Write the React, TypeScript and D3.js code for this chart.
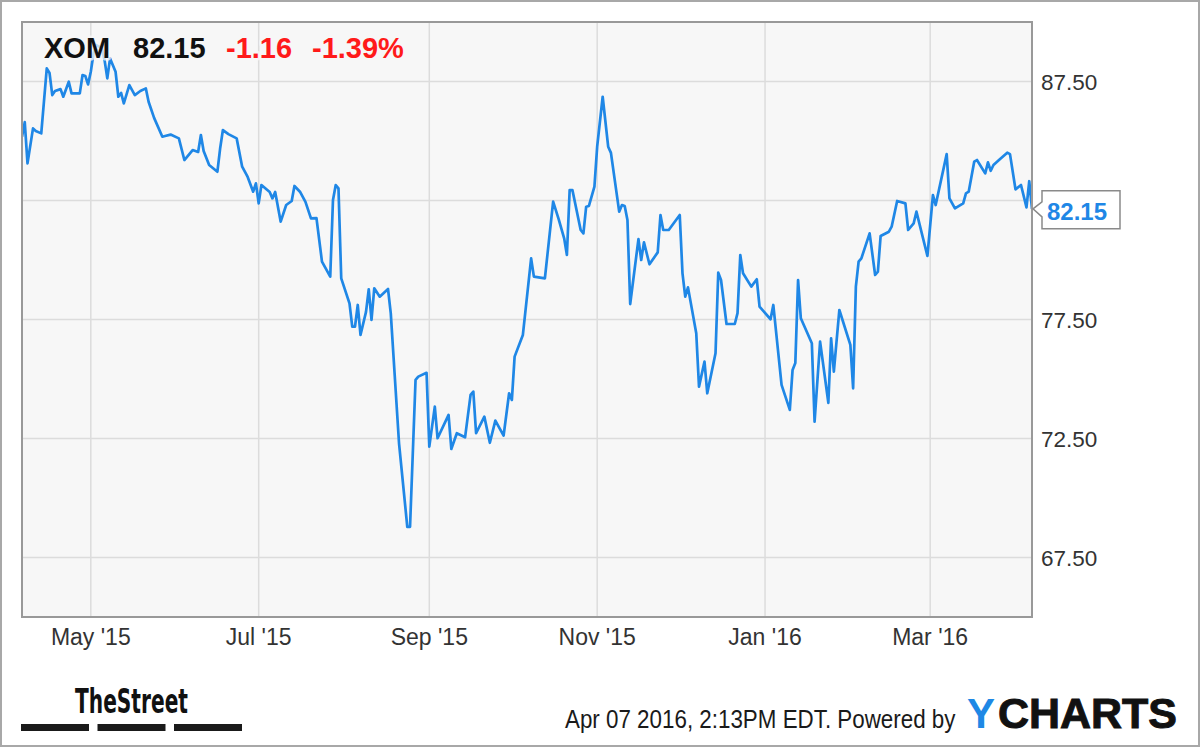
import React from "react";
import * as d3 from "d3";

// ---- data ----
const dates: string[] = [
  "2015-04-06","2015-04-07","2015-04-08","2015-04-10","2015-04-11","2015-04-13","2015-04-15","2015-04-16","2015-04-17","2015-04-18",
  "2015-04-20","2015-04-21","2015-04-23","2015-04-24","2015-04-27","2015-04-28","2015-04-29","2015-04-30","2015-05-01","2015-05-02",
  "2015-05-03","2015-05-05","2015-05-06","2015-05-07","2015-05-08","2015-05-10","2015-05-11","2015-05-12","2015-05-13","2015-05-15",
  "2015-05-17","2015-05-19","2015-05-21","2015-05-22","2015-05-24","2015-05-27","2015-05-28","2015-05-30","2015-06-02","2015-06-04",
  "2015-06-07","2015-06-09","2015-06-10","2015-06-11","2015-06-13","2015-06-16","2015-06-17","2015-06-18","2015-06-20","2015-06-23",
  "2015-06-25","2015-06-27","2015-06-29","2015-06-30","2015-07-01","2015-07-02","2015-07-05","2015-07-06","2015-07-07","2015-07-09",
  "2015-07-11","2015-07-13","2015-07-14","2015-07-16","2015-07-18","2015-07-20","2015-07-22","2015-07-24","2015-07-27","2015-07-28",
  "2015-07-29","2015-07-30","2015-07-31","2015-08-03","2015-08-04","2015-08-05","2015-08-06","2015-08-07","2015-08-09","2015-08-10",
  "2015-08-11","2015-08-12","2015-08-14","2015-08-17","2015-08-18","2015-08-21","2015-08-24","2015-08-25","2015-08-27","2015-08-28",
  "2015-08-31","2015-09-01","2015-09-03","2015-09-04","2015-09-08","2015-09-09","2015-09-11","2015-09-14","2015-09-16","2015-09-17",
  "2015-09-18","2015-09-21","2015-09-23","2015-09-25","2015-09-28","2015-09-30","2015-10-01","2015-10-02","2015-10-05","2015-10-08",
  "2015-10-09","2015-10-13","2015-10-16","2015-10-18","2015-10-20","2015-10-21","2015-10-22","2015-10-23","2015-10-26","2015-10-27",
  "2015-10-28","2015-10-29","2015-10-31","2015-11-01","2015-11-03","2015-11-05","2015-11-06","2015-11-09","2015-11-10","2015-11-11",
  "2015-11-12","2015-11-13","2015-11-16","2015-11-17","2015-11-18","2015-11-20","2015-11-23","2015-11-24","2015-11-25","2015-11-27",
  "2015-12-01","2015-12-02","2015-12-03","2015-12-04","2015-12-07","2015-12-08","2015-12-10","2015-12-11","2015-12-14","2015-12-15",
  "2015-12-16","2015-12-18","2015-12-21","2015-12-22","2015-12-23","2015-12-24","2015-12-27","2015-12-29","2015-12-30","2016-01-03",
  "2016-01-04","2016-01-07","2016-01-10","2016-01-11","2016-01-12","2016-01-13","2016-01-14","2016-01-18","2016-01-19","2016-01-21",
  "2016-01-24","2016-01-25","2016-01-26","2016-01-28","2016-02-01","2016-02-02","2016-02-03","2016-02-04","2016-02-05","2016-02-08",
  "2016-02-10","2016-02-11","2016-02-12","2016-02-15","2016-02-16","2016-02-18","2016-02-21","2016-02-22","2016-02-24","2016-02-25",
  "2016-02-29","2016-03-02","2016-03-03","2016-03-07","2016-03-08","2016-03-10","2016-03-13","2016-03-14","2016-03-15","2016-03-17",
  "2016-03-18","2016-03-21","2016-03-22","2016-03-23","2016-03-24","2016-03-26","2016-03-29","2016-03-30","2016-04-01","2016-04-03",
  "2016-04-05","2016-04-06","2016-04-07",
];

const closes: number[] = [
  85.18,85.79,84.06,85.53,85.42,85.32,88.05,87.86,86.93,87.1,
  87.18,86.86,87.49,87.0,87.0,87.77,87.73,87.38,87.91,88.68,
  89.03,88.9,88.4,87.63,88.47,87.91,86.86,87.02,86.58,87.35,
  86.93,87.1,87.21,86.65,85.97,85.18,85.21,85.27,85.11,84.2,
  84.62,84.54,85.25,84.58,83.99,83.71,84.69,85.46,85.29,85.11,
  83.92,83.49,82.87,83.22,82.38,83.15,82.86,82.59,82.86,81.61,
  82.31,82.48,83.11,82.87,82.44,81.75,81.76,79.93,79.3,82.52,
  83.15,83.01,79.23,78.18,77.2,77.2,78.11,76.85,77.82,78.77,
  77.48,78.81,78.46,78.78,77.76,72.3,68.79,68.79,74.96,75.1,
  75.26,72.16,73.84,72.51,73.49,72.06,72.72,72.55,74.33,74.47,
  72.72,73.42,72.32,73.25,72.62,74.4,74.12,75.94,76.85,80.07,
  79.3,79.23,82.45,81.72,80.91,80.21,82.94,82.94,81.26,81.12,
  82.24,82.27,83.08,84.76,86.86,84.76,84.5,82.03,82.31,82.27,
  81.68,78.15,80.88,80.0,80.74,79.82,80.32,81.89,81.26,81.26,
  81.89,79.44,78.46,78.85,76.92,74.68,75.73,74.4,76.08,79.47,
  79.16,77.31,77.31,77.77,80.21,79.44,78.88,79.19,78.04,77.51,
  78.11,74.75,73.7,75.38,75.67,79.16,77.55,76.5,73.21,76.57,
  74.0,76.71,75.31,77.9,76.43,74.61,78.88,79.93,80.07,81.12,
  79.37,79.51,81.01,81.19,81.4,82.48,82.38,81.26,81.54,82.03,
  80.17,82.73,82.31,84.45,82.59,82.17,82.38,82.8,82.87,84.13,
  84.2,83.64,84.1,83.75,83.99,84.2,84.51,84.45,82.97,83.15,
  82.21,83.31,82.15,
];

const xTickDates: string[] = ["2015-05-01", "2015-07-01", "2015-09-01", "2015-11-01", "2016-01-01", "2016-03-01"];
const xTickLabels: string[] = ["May '15", "Jul '15", "Sep '15", "Nov '15", "Jan '16", "Mar '16"];
const yTicks: number[] = [67.5, 72.5, 77.5, 82.5, 87.5];
const yDomain: number[] = [65, 90];
const xDomain: string[] = ["2015-04-06", "2016-04-07"];

const ticker = "XOM";
const lastPrice = "82.15";
const changeAbs = "-1.16";
const changePct = "-1.39%";
const stamp = "Apr 07 2016, 2:13PM EDT.  Powered by";

export default function App() {
  const W = 1200;
  const H = 747;
  const left = 22;
  const right = 1032;
  const top = 22;
  const bottom = 617;

  const parse = d3.timeParse("%Y-%m-%d");
  const data = dates.map((d, i) => ({ date: parse(d) as Date, value: closes[i] }));

  const x = d3
    .scaleTime()
    .domain([parse(xDomain[0]) as Date, parse(xDomain[1]) as Date])
    .range([left, right]);
  const y = d3.scaleLinear().domain(yDomain).range([bottom, top]);

  const line = d3
    .line<{ date: Date; value: number }>()
    .x((d) => x(d.date))
    .y((d) => y(d.value));

  const last = data[data.length - 1];
  const ly = y(last.value);
  const bx = 1042;
  const bw = 78;

  const sans = "'Liberation Sans', Arial, Helvetica, sans-serif";
  const narrow = "'Liberation Sans Narrow', 'Arial Narrow', 'DejaVu Sans Condensed', sans-serif";
  const axisColor = "#333";
  const lineColor = "#1f87e6";
  const halo = {
    stroke: "#f7f7f7",
    strokeWidth: 5,
    strokeOpacity: 0.75,
    paintOrder: "stroke" as const,
    strokeLinejoin: "round" as const,
  };

  // tick labels hidden behind the last-price flag are not shown (as in the reference)
  const visibleYTicks = yTicks.filter((t) => Math.abs(y(t) - ly) > 22);

  return (
    <svg
      width={W}
      height={H}
      style={{ position: "absolute", left: 0, top: 0, background: "#fff" }}
      xmlns="http://www.w3.org/2000/svg"
    >
      <defs>
        <clipPath id="plotClip">
          <rect x={left} y={top} width={right - left} height={bottom - top} />
        </clipPath>
      </defs>

      {/* outer frame */}
      <rect x={1} y={1} width={W - 2} height={H - 2} fill="#fff" stroke="#a8a8a8" strokeWidth={2} />

      {/* plot background */}
      <rect x={left} y={top} width={right - left} height={bottom - top} fill="#f7f7f7" />

      {/* grid */}
      {yTicks.map((t) => (
        <line key={"gy" + t} x1={left} x2={right} y1={y(t)} y2={y(t)} stroke="#dcdcdc" strokeWidth={1.5} />
      ))}
      {xTickDates.map((d) => {
        const xx = x(parse(d) as Date);
        return <line key={"gx" + d} x1={xx} x2={xx} y1={top} y2={bottom} stroke="#dcdcdc" strokeWidth={1.5} />;
      })}

      {/* price line */}
      <path
        d={line(data) || ""}
        fill="none"
        stroke={lineColor}
        strokeWidth={2.7}
        strokeLinejoin="round"
        clipPath="url(#plotClip)"
      />

      {/* plot border */}
      <rect x={left} y={top} width={right - left} height={bottom - top} fill="none" stroke="#999" strokeWidth={2} />

      {/* header */}
      <g fontFamily={sans} fontWeight="bold" fontSize={29}>
        <text x={44} y={58} fill="#111" {...halo}>{ticker}</text>
        <text x={133} y={58} fill="#111" {...halo}>{lastPrice}</text>
        <text x={226} y={58} fill="#ff1a1a" {...halo}>{changeAbs}</text>
        <text x={312} y={58} fill="#ff1a1a" {...halo}>{changePct}</text>
      </g>

      {/* y axis labels */}
      {visibleYTicks.map((t) => (
        <text key={"yl" + t} x={1041} y={y(t) + 8} fontFamily={sans} fontSize={22.5} fill={axisColor}>
          {d3.format(".2f")(t)}
        </text>
      ))}

      {/* x axis labels */}
      {xTickDates.map((d, i) => (
        <text
          key={"xl" + d}
          x={x(parse(d) as Date)}
          y={645}
          textAnchor="middle"
          fontFamily={sans}
          fontSize={23}
          fill={axisColor}
        >
          {xTickLabels[i]}
        </text>
      ))}

      {/* last price flag */}
      <path
        d={`M${bx},${ly - 18} L${bx + bw},${ly - 18} L${bx + bw},${ly + 20} L${bx},${ly + 20} L${bx},${ly + 8} L${right + 1},${ly} L${bx},${ly - 7} Z`}
        fill="#fff"
        stroke="#8a8a8a"
        strokeWidth={1.5}
      />
      <text x={bx + 5} y={ly + 11} fontFamily={sans} fontWeight="bold" fontSize={24} fill={lineColor}>
        {lastPrice}
      </text>

      {/* TheStreet logo */}
      <text
        x={75}
        y={713}
        fontFamily={narrow}
        fontWeight="bold"
        fontSize={33}
        fill="#111"
        textLength={113}
        lengthAdjust="spacingAndGlyphs"
      >
        TheStreet
      </text>
      <rect x={21} y={724} width={68} height={7} fill="#1a1a1a" />
      <rect x={97.5} y={724} width={68} height={7} fill="#1a1a1a" />
      <rect x={174} y={724} width={68} height={7} fill="#1a1a1a" />

      {/* footer */}
      <text
        transform="translate(565,728) scale(0.895,1)"
        x={0}
        y={0}
        fontFamily={sans}
        fontSize={25}
        fill="#1a1a1a"
      >
        {stamp}
      </text>
      <text x={967} y={728} fontFamily={sans} fontWeight="bold" fontSize={42} fill="#1e88e5">
        Y
      </text>
      <text
        x={998}
        y={728}
        fontFamily={sans}
        fontWeight="bold"
        fontSize={43}
        textLength={179}
        lengthAdjust="spacingAndGlyphs"
        fill="#111"
        stroke="#111"
        strokeWidth={1}
      >
        CHARTS
      </text>
    </svg>
  );
}
